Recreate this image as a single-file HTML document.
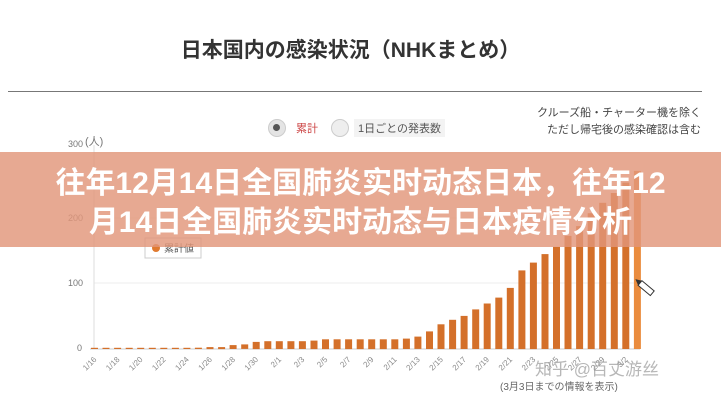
<!DOCTYPE html>
<html><head><meta charset="utf-8"><style>
html,body{margin:0;padding:0;background:#fff;}
body{width:721px;height:400px;position:relative;overflow:hidden;font-family:"Liberation Sans","Noto Sans CJK JP",sans-serif;}
.t{position:absolute;white-space:nowrap;}
</style></head><body>
<div class="t" style="left:0;width:721px;top:34px;text-align:center;font-size:21px;font-weight:bold;color:#333;"><span style="position:relative;left:-10px">日本国内の感染状況（NHKまとめ）</span></div>
<div style="position:absolute;left:8px;top:91px;width:694px;height:1px;background:#777"></div>
<div class="t" style="right:20px;top:105px;font-size:11px;color:#444;text-align:right;line-height:17px">クルーズ船・チャーター機を除く<br>ただし帰宅後の感染確認は含む</div>
<div style="position:absolute;left:268px;top:119px;width:16px;height:16px;border-radius:50%;background:#e4e4e4;border:1px solid #ccc"></div>
<div style="position:absolute;left:273px;top:124px;width:7px;height:7px;border-radius:50%;background:#555"></div>
<div class="t" style="left:296px;top:120px;font-size:11px;color:#c44">累計</div>
<div style="position:absolute;left:331px;top:119px;width:16px;height:16px;border-radius:50%;background:#eee;border:1px solid #ccc"></div>
<div class="t" style="left:354px;top:119px;font-size:11px;color:#555;background:#f3f3f3;padding:1px 4px">1日ごとの発表数</div>
<svg style="position:absolute;left:0;top:0" width="721" height="400">
<g stroke="#eee" stroke-width="1">
<line x1="94" y1="153" x2="640" y2="153"/><line x1="94" y1="218" x2="640" y2="218"/><line x1="94" y1="283" x2="640" y2="283"/>
</g>
<line x1="94" y1="145" x2="94" y2="349" stroke="#ddd"/>
<line x1="90" y1="349" x2="640" y2="349" stroke="#ccc"/>
<g font-size="9" fill="#777" font-family="Liberation Sans,sans-serif">
<text x="68" y="147">300</text><text x="85" y="145" font-size="11">(人)</text>
<text x="68" y="221">200</text><text x="68" y="286">100</text><text x="77" y="351">0</text>
</g>
<g id="bars"></g>
<g id="xl" font-size="8" fill="#888" font-family="Liberation Sans,sans-serif"></g>
<rect x="145" y="238" width="56" height="20" fill="#fff" stroke="#ccc"/>
<circle cx="156" cy="248" r="4" fill="#e07a30"/>
<text x="164" y="252" font-size="10" fill="#555" font-family="Liberation Sans,Noto Sans CJK JP,sans-serif">累計値</text>
<g transform="translate(640,283) rotate(40)"><rect x="0" y="-3" width="16" height="6" fill="#fff" stroke="#333"/><path d="M0,-3 L-6,0 L0,3Z" fill="#333"/></g>
<text x="500" y="390" font-size="10" fill="#666" font-family="Liberation Sans,Noto Sans CJK JP,sans-serif">(3月3日までの情報を表示)</text>
<text x="535" y="375" font-size="17" fill="#999" opacity="0.7" font-family="Liberation Sans,Noto Sans CJK SC,sans-serif">知乎 @百丈游丝</text>
</svg>
<div style="position:absolute;left:0;top:152px;width:721px;height:95px;background:rgba(226,150,122,0.82)"></div>
<div class="t" style="left:0;width:721px;top:164px;text-align:center;font-size:30px;font-weight:bold;color:#fff;line-height:39px;font-family:'Liberation Sans','Noto Sans CJK SC',sans-serif">往年12月14日全国肺炎实时动态日本，往年12<br>月14日全国肺炎实时动态与日本疫情分析</div>
<script>
var v=[0,0,0,0,0,0,0,0,1,2,3,3,6,7,11,12,12,12,12,13,15,15,15,15,15,15,15,16,19,27,38,45,51,61,70,79,94,121,133,146,157,174,189,209,225,240,256,274];
var g=document.getElementById('bars'),s='';
for(var i=0;i<48;i++){var x=91+i*11.55,h=v[i]*0.65;if(h<1.2)h=1.2;
s+='<rect x="'+x.toFixed(1)+'" y="'+(349-h).toFixed(1)+'" width="7" height="'+h.toFixed(1)+'" fill="'+(i==47?'#ea8c3e':'#d4702a')+'"/>';}
g.innerHTML=s;
var L=['1/16','1/18','1/20','1/22','1/24','1/26','1/28','1/30','2/1','2/3','2/5','2/7','2/9','2/11','2/13','2/15','2/17','2/19','2/21','2/23','2/25','2/27','2/29','3/2'],t='';
for(var j=0;j<L.length;j++){var x=97+j*23.1;t+='<text transform="translate('+x+',360) rotate(-45)" text-anchor="end">'+L[j]+'</text>';}
document.getElementById('xl').innerHTML=t;
</script>
</body></html>
